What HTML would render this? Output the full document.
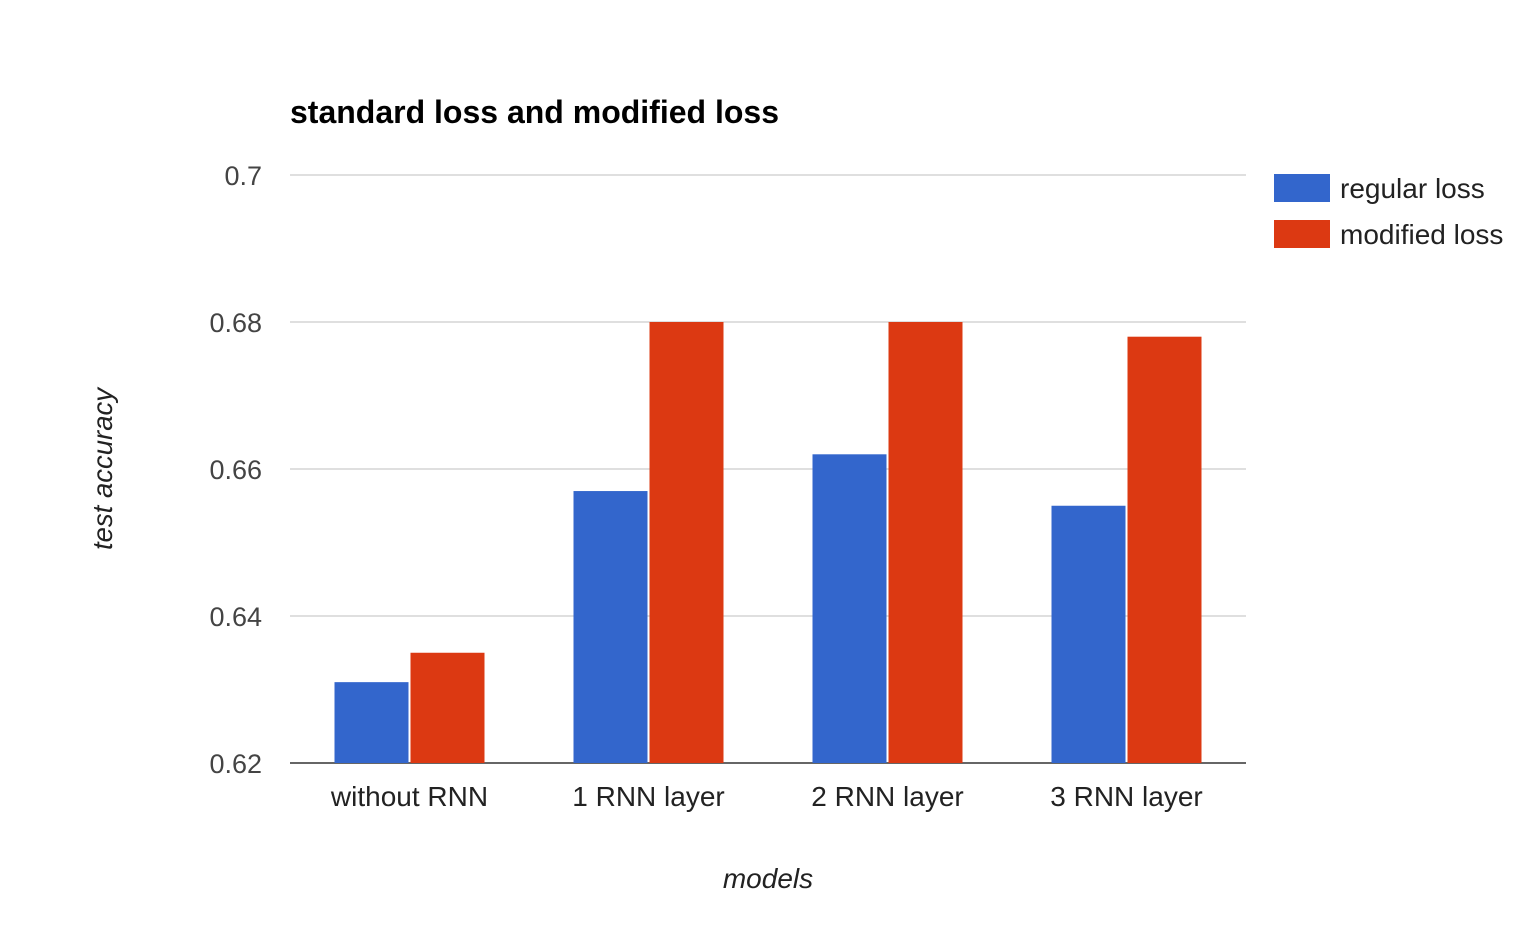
<!DOCTYPE html>
<html><head><meta charset="utf-8"><style>
html,body{margin:0;padding:0;background:#fff;}
svg{display:block;font-family:"Liberation Sans",Arial,sans-serif;}
</style></head><body>
<svg id="chart" width="1534" height="946">
<text x="290" y="123" font-size="32" font-weight="bold" fill="#000">standard loss and modified loss</text>
<g id="grid"></g>
<g id="bars"></g>
<g id="labels"></g>
<text transform="translate(112,469) rotate(-90)" text-anchor="middle" font-size="27.5" font-style="italic" fill="#222">test accuracy</text>
<text x="768" y="888" text-anchor="middle" font-size="28" font-style="italic" fill="#222">models</text>
<g>
<rect x="1274" y="174" width="56" height="28" fill="#3366cc"/>
<text x="1340" y="198" font-size="28" fill="#222">regular loss</text>
<rect x="1274" y="220" width="56" height="28" fill="#dc3912"/>
<text x="1340" y="244" font-size="28" fill="#222">modified loss</text>
</g>
</svg>
<script>
const categories = ["without RNN","1 RNN layer","2 RNN layer","3 RNN layer"];
const regularLoss = [0.631,0.657,0.662,0.655];
const modifiedLoss = [0.635,0.680,0.680,0.678];
const yTicks = [0.62,0.64,0.66,0.68,0.7];
const yTickLabels = ["0.62","0.64","0.66","0.68","0.7"];

const NS="http://www.w3.org/2000/svg";
const plotL=290, plotR=1246, plotTop=175, plotBot=763, yMin=0.62, yMax=0.70;
function y(v){return plotBot-(v-yMin)/(yMax-yMin)*(plotBot-plotTop);}
const bandW=(plotR-plotL)/categories.length;
function xc(i){return plotL+bandW*(i+0.5);}
function mk(tag,attrs,parent){const e=document.createElementNS(NS,tag);for(const k in attrs)e.setAttribute(k,attrs[k]);parent.appendChild(e);return e;}
const grid=document.getElementById('grid'),bars=document.getElementById('bars'),labels=document.getElementById('labels');
yTicks.forEach((t,i)=>{
  const l=mk('line',{x1:plotL,x2:plotR,y1:y(t),y2:y(t),stroke:i===0?'#333':'#ccc','stroke-width':i===0?1.5:1.2},grid);
  
  
  const tx=mk('text',{x:262,y:y(t)+10,'text-anchor':'end','font-size':27,fill:'#444'},labels);
  tx.textContent=yTickLabels[i];
  
  
});
const bw=74,gap=2;
categories.forEach((c,i)=>{
  const cx=xc(i);
  const b1=mk('rect',{x:cx-bw-gap/2,y:y(regularLoss[i]),width:bw,height:plotBot-y(regularLoss[i]),fill:'#3366cc'},bars);
  
  
  const b2=mk('rect',{x:cx+gap/2,y:y(modifiedLoss[i]),width:bw,height:plotBot-y(modifiedLoss[i]),fill:'#dc3912'},bars);
  
  
  const tx=mk('text',{x:cx,y:806,'text-anchor':'middle','font-size':28,fill:'#222'},labels);
  tx.textContent=c;
  
  
});
</script>
</body></html>
